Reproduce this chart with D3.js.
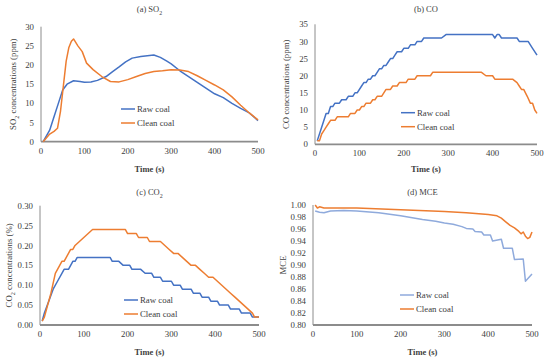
<!DOCTYPE html>
<html>
<head>
<meta charset="utf-8">
<script src="https://cdn.jsdelivr.net/npm/d3@7"></script>
<style>
  body { margin: 0; background: #fff; }
  text { font-family: "Liberation Serif", "DejaVu Serif", serif; fill: #404040; }
</style>
</head>
<body>
<div id="chart"></div>
<script>
// (a) SO2, ppm
const so2Raw = [[5,0],[20,3],[30,6.5],[40,10],[50,13.5],[60,15],[75,15.9],[90,15.7],[100,15.5],[115,15.6],[130,16],[150,17],[165,18.3],[180,19.5],[195,20.8],[210,21.8],[230,22.2],[245,22.4],[260,22.6],[275,22],[290,21],[300,20.3],[320,18.5],[340,17],[360,15.5],[380,14],[400,12.5],[420,11.5],[440,10],[460,8.7],[480,7.5],[500,5.5]];
const so2Clean = [[5,0],[20,2],[30,2.7],[38,3.5],[45,8],[52,15],[58,21],[64,24.5],[70,26.2],[75,26.8],[85,25],[95,23.5],[105,20.5],[120,18.8],[140,17],[160,15.7],[180,15.6],[200,16.2],[220,17],[240,17.8],[260,18.3],[280,18.5],[300,18.8],[320,18.7],[340,18.3],[360,17.2],[380,16],[400,14.8],[420,13.5],[440,11.7],[460,9.5],[480,7.5],[500,5.7]];

// (b) CO, ppm
const coRaw = [[5,1],[15,5],[25,9],[30,9],[35,11],[40,11],[45,12],[55,12],[60,13],[70,13],[75,14],[85,14],[90,15],[95,15],[105,17],[110,18],[115,18],[120,19],[125,19],[130,20],[135,20],[140,21],[145,22],[150,22],[155,23],[160,23],[165,24],[170,25],[175,25],[180,26],[185,27],[195,27],[200,28],[210,28],[215,29],[225,29],[230,30],[240,30],[245,31],[285,31],[295,32],[400,32],[405,31],[410,32],[415,32],[420,31],[455,31],[460,30],[480,30],[490,28],[500,26]];
const coClean = [[5,1],[10,1],[15,3],[20,4],[25,5],[30,6],[35,7],[45,7],[50,8],[75,8],[80,9],[90,9],[95,10],[100,10],[105,11],[110,11],[115,12],[125,12],[130,13],[135,13],[140,14],[150,14],[155,15],[160,16],[170,16],[175,17],[185,17],[190,18],[205,18],[210,19],[225,19],[230,20],[260,20],[265,21],[375,21],[385,20],[400,20],[405,19],[445,19],[455,18],[460,17],[465,16],[470,16],[478,14],[485,12],[490,12],[495,10],[500,9]];

// (c) CO2, %
const co2Raw = [[5,0.01],[10,0.03],[20,0.06],[30,0.09],[40,0.11],[50,0.13],[55,0.14],[65,0.14],[70,0.15],[75,0.16],[80,0.16],[85,0.17],[160,0.17],[165,0.16],[180,0.16],[190,0.15],[205,0.15],[210,0.14],[230,0.14],[240,0.13],[255,0.13],[260,0.12],[275,0.12],[280,0.11],[300,0.11],[305,0.10],[320,0.10],[325,0.09],[345,0.09],[350,0.08],[365,0.08],[370,0.07],[385,0.07],[390,0.06],[405,0.06],[410,0.05],[430,0.05],[435,0.04],[455,0.04],[460,0.03],[480,0.03],[485,0.02],[500,0.02]];
const co2Clean = [[5,0.01],[10,0.02],[20,0.06],[25,0.08],[35,0.13],[45,0.15],[50,0.16],[55,0.16],[60,0.17],[65,0.18],[70,0.19],[75,0.19],[80,0.20],[90,0.21],[100,0.22],[110,0.23],[120,0.24],[195,0.24],[200,0.23],[220,0.23],[225,0.22],[245,0.22],[250,0.21],[275,0.21],[285,0.20],[295,0.19],[305,0.18],[315,0.18],[325,0.17],[335,0.16],[345,0.15],[355,0.15],[365,0.14],[375,0.13],[385,0.12],[395,0.12],[405,0.11],[415,0.10],[425,0.09],[435,0.08],[445,0.07],[455,0.06],[465,0.05],[475,0.04],[485,0.03],[490,0.02],[500,0.02]];

// (d) MCE
const mceRaw = [[5,0.990],[15,0.988],[25,0.987],[40,0.990],[70,0.991],[100,0.990],[150,0.987],[200,0.982],[250,0.976],[280,0.973],[300,0.970],[320,0.968],[340,0.964],[350,0.961],[365,0.960],[370,0.956],[385,0.955],[390,0.950],[405,0.950],[410,0.940],[430,0.943],[435,0.928],[455,0.928],[460,0.909],[480,0.910],[485,0.873],[500,0.885]];
const mceClean = [[5,1.000],[10,0.995],[15,0.997],[25,0.995],[100,0.995],[200,0.992],[300,0.989],[350,0.987],[400,0.984],[420,0.982],[430,0.978],[440,0.972],[450,0.966],[460,0.962],[470,0.956],[475,0.952],[480,0.955],[485,0.948],[490,0.944],[495,0.946],[500,0.955]];

const xTicks = [0, 100, 200, 300, 400, 500];
const seriesNames = ["Raw coal", "Clean coal"];

const panels = [
  { title: ["(a) SO", "2", ""], ylab: ["SO", "2", " concentrations (ppm)"], raw: so2Raw, clean: so2Clean,
    yDomain: [0, 30], yTicks: [0, 5, 10, 15, 20, 25, 30], fmt: d3.format("d"),
    x0: 41, x1: 258, y0: 141.7, y1: 26.7, ty: 9, xly: 169, ylx: 13, leg: [121, 109], rawColor: "#4472C4" },
  { title: ["(b) CO", "", ""], ylab: ["CO concentrations (ppm)", "", ""], raw: coRaw, clean: coClean,
    yDomain: [0, 35], yTicks: [0, 5, 10, 15, 20, 25, 30, 35], fmt: d3.format("d"),
    x0: 315, x1: 537, y0: 144.3, y1: 24.3, ty: 9, xly: 169, ylx: 286, leg: [401, 112.7], rawColor: "#4472C4" },
  { title: ["(c) CO", "2", ""], ylab: ["CO", "2", " concentrations (%)"], raw: co2Raw, clean: co2Clean,
    yDomain: [0, 0.30], yTicks: [0, 0.05, 0.10, 0.15, 0.20, 0.25, 0.30], fmt: d3.format(".2f"),
    x0: 40, x1: 259, y0: 325, y1: 205.7, ty: 192, xly: 352, ylx: 9, leg: [124, 300], rawColor: "#4472C4" },
  { title: ["(d) MCE", "", ""], ylab: ["MCE", "", ""], raw: mceRaw, clean: mceClean,
    yDomain: [0.80, 1.00], yTicks: d3.range(0.80, 1.001, 0.02), fmt: d3.format(".2f"),
    x0: 313, x1: 532, y0: 325, y1: 205, ty: 192, xly: 352, ylx: 283, leg: [400, 295], rawColor: "#8FAADC" }
];

const svg = d3.select("#chart").append("svg")
  .attr("width", 550)
  .attr("height", 359);

function subText(sel, parts) {
  sel.append("tspan").text(parts[0]);
  if (parts[1]) {
    sel.append("tspan").attr("baseline-shift", "sub").attr("font-size", "0.7em").text(parts[1]);
    sel.append("tspan").text(parts[2]);
  }
}

panels.forEach(p => {
  const g = svg.append("g");
  const x = d3.scaleLinear().domain([0, 500]).range([p.x0, p.x1]);
  const y = d3.scaleLinear().domain(p.yDomain).range([p.y0, p.y1]);

  // axis lines
  g.append("line").attr("x1", p.x0).attr("x2", p.x0).attr("y1", p.y0).attr("y2", p.y1)
    .attr("stroke", "#8c8c8c").attr("stroke-width", 1);
  g.append("line").attr("x1", p.x0).attr("x2", p.x1).attr("y1", p.y0).attr("y2", p.y0)
    .attr("stroke", "#8c8c8c").attr("stroke-width", 1.8);

  // ticks
  g.selectAll(".yt").data(p.yTicks).join("text")
    .attr("x", p.x0 - 7).attr("y", d => y(d)).attr("dy", "0.35em")
    .attr("text-anchor", "end").attr("font-size", 8.8)
    .text(d => p.fmt(d));
  g.selectAll(".xt").data(xTicks).join("text")
    .attr("x", d => x(d)).attr("y", p.y0 + 12)
    .attr("text-anchor", "middle").attr("font-size", 8.8)
    .text(d => d);

  // lines
  const line = d3.line().x(d => x(d[0])).y(d => y(d[1]));
  [[p.raw, p.rawColor], [p.clean, "#ED7D31"]].forEach(([data, c]) => {
    g.append("path").datum(data).attr("d", line)
      .attr("fill", "none").attr("stroke", c).attr("stroke-width", 1.5)
      .attr("stroke-linejoin", "round");
  });

  // title and axis labels
  const cx = (p.x0 + p.x1) / 2;
  subText(g.append("text").attr("x", cx).attr("y", p.ty).attr("dy", "0.35em")
    .attr("text-anchor", "middle").attr("font-size", 8.5), p.title);
  g.append("text").attr("x", cx).attr("y", p.xly).attr("dy", "0.35em")
    .attr("text-anchor", "middle").attr("font-size", 8.5).attr("font-weight", "bold")
    .text("Time (s)");
  subText(g.append("text")
    .attr("transform", `translate(${p.ylx},${(p.y0 + p.y1) / 2}) rotate(-90)`)
    .attr("dy", "0.35em").attr("text-anchor", "middle").attr("font-size", 8.8), p.ylab);

  // legend
  [p.rawColor, "#ED7D31"].forEach((c, i) => {
    const ly = p.leg[1] + i * 14;
    g.append("line").attr("x1", p.leg[0]).attr("x2", p.leg[0] + 14).attr("y1", ly).attr("y2", ly)
      .attr("stroke", c).attr("stroke-width", 1.5);
    g.append("text").attr("x", p.leg[0] + 16).attr("y", ly).attr("dy", "0.35em")
      .attr("font-size", 8.8).text(seriesNames[i]);
  });
});
</script>
</body>
</html>
